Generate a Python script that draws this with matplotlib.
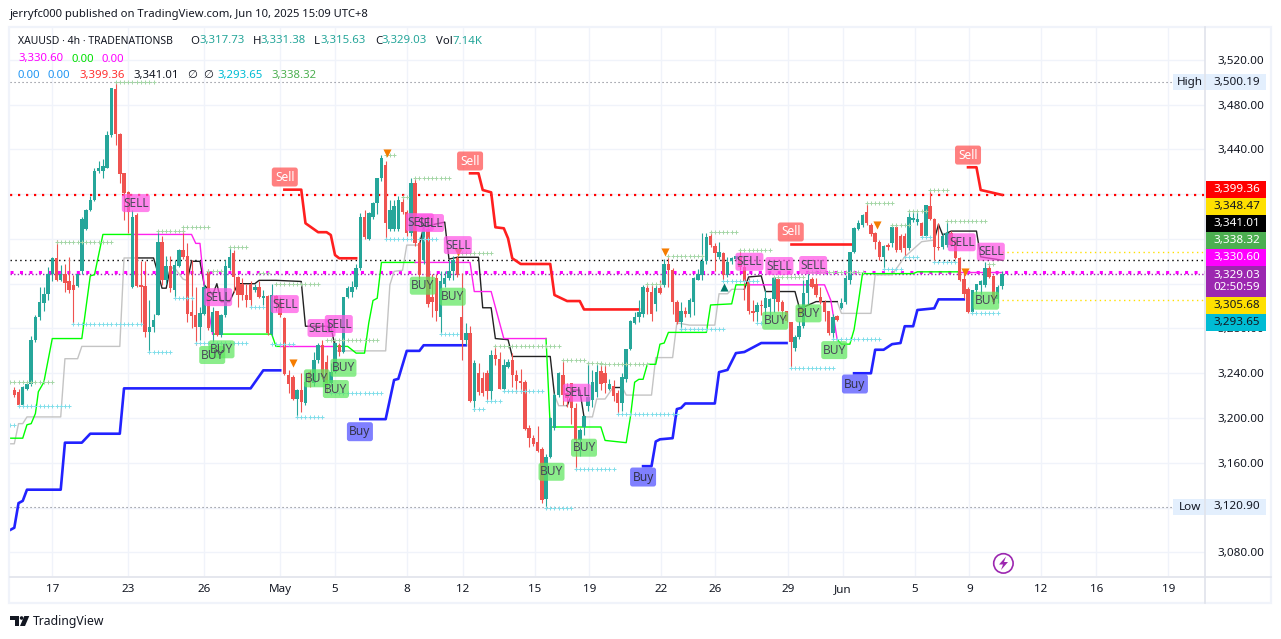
#!/usr/bin/env python3
# XAUUSD 4h chart
import numpy as np
import matplotlib
matplotlib.use("Agg")
import matplotlib.pyplot as plt
from matplotlib.patches import Rectangle, Polygon, Circle, FancyBboxPatch

plt.rcParams["font.family"] = ["Noto Sans", "DejaVu Sans"]

# ── DATA ──────────────────────────────────────────────────────────────
opens = [
    3225, 3223, 3212, 3226, 3230, 3270, 3290, 3303, 3311, 3329,
    3343, 3323, 3329, 3322, 3319, 3318, 3331, 3369, 3386, 3395,
    3421, 3421, 3423, 3453, 3494, 3454, 3419, 3402, 3317, 3381,
    3319, 3318, 3277, 3281, 3292, 3357, 3323, 3336, 3314, 3336,
    3350, 3345, 3295, 3292, 3281, 3293, 3331, 3277, 3296, 3274,
    3292, 3334, 3347, 3326, 3320, 3310, 3320, 3314, 3317, 3307,
    3309, 3275, 3309, 3304, 3289, 3238, 3237, 3217, 3225, 3213,
    3241, 3231, 3252, 3265, 3250, 3231, 3241, 3265, 3259, 3308,
    3313, 3317, 3334, 3380, 3360, 3380, 3392, 3414, 3426, 3369,
    3369, 3369, 3393, 3384, 3365, 3410, 3356, 3341, 3369, 3308,
    3325, 3290, 3320, 3325, 3331, 3343, 3290, 3270, 3276, 3215,
    3240, 3236, 3240, 3224, 3256, 3253, 3226, 3246, 3252, 3238,
    3233, 3232, 3191, 3182, 3179, 3172, 3128, 3165, 3191, 3221,
    3238, 3222, 3231, 3209, 3180, 3192, 3211, 3216, 3223, 3242,
    3240, 3226, 3229, 3222, 3213, 3235, 3262, 3285, 3290, 3293,
    3316, 3313, 3302, 3316, 3319, 3338, 3332, 3304, 3286, 3296,
    3293, 3304, 3323, 3328, 3340, 3363, 3354, 3344, 3347, 3328,
    3340, 3342, 3344, 3335, 3322, 3296, 3295, 3301, 3298, 3299,
    3306, 3324, 3304, 3296, 3286, 3263, 3272, 3282, 3312, 3324,
    3320, 3308, 3304, 3296, 3276, 3291, 3298, 3304, 3323, 3348,
    3369, 3372, 3384, 3372, 3365, 3357, 3344, 3355, 3356, 3371,
    3363, 3363, 3352, 3377, 3375, 3374, 3363, 3389, 3378, 3353,
    3353, 3355, 3365, 3359, 3343, 3324, 3315, 3295, 3314, 3319,
    3319, 3334, 3327, 3306, 3317.73,
]
highs = [
    3228, 3226, 3229, 3232, 3273, 3292, 3317, 3317, 3335, 3344,
    3359, 3337, 3338, 3344, 3328, 3329, 3380, 3387, 3398, 3423,
    3430, 3431, 3456, 3495, 3500, 3455, 3419, 3403, 3386, 3383,
    3340, 3340, 3305, 3293, 3368, 3363, 3345, 3345, 3341, 3351,
    3369, 3356, 3341, 3317, 3299, 3320, 3333, 3299, 3296, 3293,
    3341, 3353, 3350, 3327, 3325, 3320, 3322, 3320, 3322, 3314,
    3310, 3320, 3310, 3308, 3290, 3243, 3238, 3226, 3240, 3240,
    3243, 3259, 3267, 3270, 3256, 3249, 3268, 3267, 3308, 3318,
    3322, 3338, 3383, 3386, 3384, 3393, 3414, 3435, 3430, 3395,
    3395, 3398, 3398, 3386, 3414, 3414, 3359, 3372, 3371, 3329,
    3329, 3331, 3331, 3341, 3345, 3345, 3330, 3285, 3282, 3252,
    3249, 3241, 3243, 3261, 3265, 3259, 3253, 3253, 3258, 3243,
    3244, 3234, 3194, 3185, 3193, 3174, 3168, 3201, 3222, 3241,
    3252, 3231, 3231, 3213, 3191, 3203, 3250, 3243, 3249, 3249,
    3247, 3235, 3234, 3225, 3240, 3262, 3288, 3295, 3305, 3319,
    3320, 3320, 3319, 3323, 3342, 3346, 3334, 3305, 3304, 3299,
    3307, 3326, 3333, 3365, 3365, 3367, 3356, 3357, 3348, 3344,
    3344, 3345, 3351, 3338, 3325, 3305, 3304, 3305, 3314, 3307,
    3326, 3326, 3305, 3296, 3286, 3274, 3287, 3323, 3331, 3326,
    3325, 3317, 3305, 3296, 3293, 3292, 3307, 3328, 3348, 3371,
    3377, 3382, 3392, 3374, 3366, 3359, 3355, 3356, 3372, 3372,
    3364, 3365, 3386, 3386, 3385, 3375, 3390, 3404, 3379, 3374,
    3365, 3376, 3367, 3360, 3344, 3331, 3317, 3314, 3320, 3323,
    3339, 3338, 3328, 3319, 3331.38,
]
lows = [
    3219, 3211, 3211, 3225, 3229, 3268, 3288, 3296, 3305, 3322,
    3322, 3322, 3313, 3312, 3284, 3317, 3329, 3368, 3385, 3394,
    3419, 3414, 3423, 3451, 3444, 3410, 3377, 3365, 3316, 3317,
    3283, 3272, 3259, 3277, 3292, 3319, 3320, 3313, 3307, 3335,
    3342, 3286, 3280, 3265, 3270, 3292, 3279, 3268, 3273, 3272,
    3290, 3332, 3313, 3299, 3305, 3299, 3299, 3313, 3307, 3301,
    3274, 3273, 3296, 3290, 3238, 3222, 3216, 3201, 3205, 3212,
    3228, 3229, 3249, 3235, 3222, 3229, 3240, 3255, 3258, 3307,
    3308, 3315, 3332, 3360, 3359, 3378, 3382, 3412, 3360, 3367,
    3367, 3367, 3382, 3363, 3363, 3354, 3324, 3338, 3299, 3290,
    3287, 3275, 3317, 3323, 3323, 3326, 3252, 3265, 3214, 3206,
    3221, 3220, 3216, 3216, 3247, 3226, 3223, 3245, 3228, 3222,
    3222, 3189, 3174, 3175, 3170, 3124, 3119, 3164, 3189, 3219,
    3212, 3210, 3195, 3154, 3166, 3185, 3206, 3210, 3219, 3225,
    3222, 3225, 3215, 3204, 3206, 3232, 3261, 3284, 3286, 3290,
    3293, 3287, 3296, 3311, 3317, 3317, 3293, 3284, 3278, 3290,
    3290, 3292, 3323, 3323, 3338, 3353, 3331, 3342, 3323, 3326,
    3338, 3340, 3332, 3305, 3293, 3287, 3286, 3292, 3284, 3290,
    3295, 3296, 3287, 3286, 3246, 3260, 3271, 3280, 3302, 3316,
    3308, 3302, 3287, 3274, 3270, 3287, 3297, 3302, 3320, 3347,
    3368, 3371, 3372, 3363, 3351, 3341, 3332, 3350, 3353, 3348,
    3348, 3344, 3350, 3375, 3372, 3362, 3362, 3377, 3340, 3350,
    3351, 3353, 3354, 3342, 3322, 3307, 3294, 3293, 3306, 3311,
    3317, 3325, 3302, 3303, 3315.63,
]
closes = [
    3221, 3212, 3228, 3230, 3270, 3290, 3304, 3311, 3329, 3343,
    3323, 3329, 3321, 3314, 3314, 3329, 3378, 3386, 3395, 3421,
    3423, 3425, 3453, 3495, 3454, 3418, 3401, 3384, 3380, 3318,
    3317, 3277, 3281, 3288, 3357, 3323, 3336, 3316, 3337, 3350,
    3344, 3293, 3291, 3281, 3294, 3317, 3280, 3295, 3274, 3292,
    3336, 3344, 3326, 3310, 3310, 3305, 3305, 3317, 3308, 3309,
    3276, 3310, 3302, 3292, 3239, 3230, 3217, 3225, 3214, 3232,
    3231, 3252, 3265, 3237, 3231, 3241, 3267, 3259, 3308, 3316,
    3317, 3334, 3380, 3362, 3383, 3392, 3414, 3432, 3374, 3386,
    3389, 3395, 3384, 3365, 3410, 3356, 3328, 3369, 3302, 3304,
    3296, 3322, 3325, 3331, 3341, 3328, 3270, 3276, 3215, 3249,
    3223, 3222, 3224, 3256, 3253, 3226, 3247, 3250, 3238, 3233,
    3231, 3190, 3182, 3177, 3171, 3127, 3165, 3200, 3221, 3240,
    3221, 3218, 3209, 3180, 3189, 3202, 3219, 3232, 3241, 3230,
    3231, 3230, 3220, 3213, 3237, 3262, 3287, 3290, 3295, 3317,
    3313, 3293, 3316, 3312, 3338, 3332, 3304, 3286, 3296, 3293,
    3305, 3325, 3329, 3340, 3362, 3355, 3347, 3348, 3328, 3339,
    3343, 3345, 3335, 3322, 3296, 3294, 3301, 3300, 3307, 3306,
    3325, 3304, 3296, 3287, 3268, 3272, 3282, 3312, 3323, 3317,
    3310, 3304, 3295, 3276, 3290, 3288, 3303, 3325, 3348, 3370,
    3374, 3381, 3374, 3364, 3357, 3344, 3354, 3353, 3371, 3350,
    3350, 3352, 3380, 3379, 3378, 3363, 3390, 3378, 3353, 3352,
    3363, 3365, 3355, 3343, 3323, 3311, 3295, 3314, 3320, 3322,
    3334, 3326, 3304, 3317, 3329.03,
]

# (bars, prices) pieces of the stepped indicator lines
blue_segments = [
    ([-1, 0, 1, 2, 3, 11, 12, 16, 18, 25, 26, 56, 59, 63],
     [3100, 3102, 3124, 3126, 3136, 3136, 3178, 3178, 3186, 3186, 3226.5, 3226.5, 3242.6, 3242.6]),
    ([82, 88, 90, 91, 93, 96, 97, 107],
     [3199, 3199, 3234, 3235, 3260, 3260, 3265, 3265]),
    ([149, 151, 152, 153, 156, 157, 158, 159, 166, 167, 169, 171, 173, 174, 177, 183],
     [3157, 3157, 3179, 3181, 3182, 3208, 3209, 3213, 3213, 3241, 3243, 3258, 3259, 3261, 3267, 3267]),
    ([199, 203, 204, 206, 208, 210, 211, 213, 214, 218, 219, 225],
     [3240, 3240, 3261, 3261, 3266, 3267, 3282, 3282, 3296.5, 3298, 3306, 3306]),
]
red_segments = [
    ([64, 68, 69, 72, 74, 75, 76, 77, 81],
     [3404, 3404, 3374, 3366, 3366, 3363.5, 3345.6, 3342.7, 3342.7]),
    ([108, 110, 111, 113, 114, 116, 117, 118, 120, 127, 128, 131, 134, 135, 148],
     [3418.6, 3418.6, 3403.7, 3401.6, 3370.4, 3369.5, 3360.5, 3342.7, 3337.6, 3337.6, 3309.9, 3304.5, 3304.5, 3297, 3297]),
    ([184, 199], [3355.4, 3355.4]),
    ([226, 228, 229, 231, 234], [3424, 3424, 3403.7, 3402, 3399.36]),
]
lime_segments = [
    ([-1, 2, 3, 4, 5, 5.3, 5.7, 7, 9, 16, 18, 19, 21, 28],
     [3182, 3182, 3194, 3195, 3204, 3212, 3223.5, 3232, 3271, 3271, 3327, 3328, 3364, 3364]),
    ([47, 61, 62, 63], [3275, 3275, 3264, 3264]),
    ([76, 79, 81, 83, 84, 85, 86, 87, 95],
     [3264, 3264, 3258, 3258, 3285, 3305, 3307, 3339, 3339]),
    ([126, 127, 139, 140, 145, 146, 147, 148, 149, 150, 152, 153, 154, 155, 164, 165, 170, 171, 174],
     [3271, 3192, 3192, 3180, 3178, 3201, 3232, 3234.6, 3234.6, 3248, 3248, 3266, 3267, 3276.5, 3276.5, 3301, 3302, 3319, 3319]),
    ([195, 196, 198, 199, 200, 201, 213, 214, 224],
     [3270, 3266, 3266, 3279, 3303, 3329, 3329, 3330.6, 3330.6]),
]
magenta_segments = [
    ([28, 42, 43, 44, 45, 47], [3364, 3364, 3356, 3356, 3318, 3275]),
    ([63, 76], [3264, 3264]),
    ([95, 108, 109, 113, 116, 126], [3339, 3339, 3313, 3313, 3271, 3271]),
    ([174, 192, 193.5, 195], [3319, 3319, 3305, 3270]),
    ([224, 234], [3330.6, 3330.6]),
]
gray_segments = [
    ([-1, 0, 1, 2, 3, 11, 12, 15, 16, 25, 26, 29],
     [3177, 3177, 3195, 3195, 3201, 3201, 3253, 3253, 3264, 3264, 3343, 3343]),
    ([37, 38, 40, 41], [3334, 3334, 3324, 3323]),
    ([76, 88, 89, 90, 92, 93, 96], [3260, 3260, 3319, 3331, 3332, 3354.5, 3354.5]),
    ([128, 129, 131], [3220.5, 3211, 3211]),
    ([135, 137, 138, 140, 142], [3201, 3201, 3217, 3217, 3228]),
    ([144, 145, 151, 152, 156, 157, 160, 166, 167, 169, 170, 173],
     [3228, 3220.5, 3220.5, 3254, 3254, 3285, 3283, 3283, 3311, 3311, 3315, 3315]),
    ([195, 196, 203, 204, 208, 211, 215, 218],
     [3304, 3293.5, 3293.5, 3328, 3328, 3344, 3357.5, 3359]),
]
black_segments = [
    ([29, 33, 34, 35, 36, 37], [3343, 3343, 3330, 3316, 3316, 3335]),
    ([41, 42, 44, 45, 47, 48, 49, 51, 53, 57, 58, 62, 68, 69, 75, 76],
     [3323, 3340, 3340, 3319, 3310, 3320, 3304, 3304, 3320, 3320, 3323, 3323, 3322, 3282, 3282, 3264]),
    ([96, 97, 102, 103, 105, 110, 111, 113, 114, 117, 118, 127, 128],
     [3354.5, 3371, 3375, 3342, 3343.6, 3343.6, 3298.5, 3298.5, 3271, 3270, 3255, 3255, 3220.5]),
    ([131, 132.5, 134, 135], [3211, 3225, 3225, 3201]),
    ([142, 144], [3228, 3228]),
    ([173, 174, 177, 178, 185, 186, 187, 190, 195],
     [3315, 3326, 3327, 3313, 3313, 3299, 3299, 3304, 3304]),
    ([218, 219, 220, 222, 228, 229, 234],
     [3359, 3373, 3363.5, 3367, 3367, 3344, 3341]),
]

# dotted "+" pivot runs: first bar, last bar, price
pivot_high_first = [-1, 10, 24, 34, 40, 46, 51, 58, 62, 74, 88, 92, 95, 106, 114, 130, 136, 139, 150, 155, 165, 172, 180, 188, 202, 208, 212, 217, 221, 231]
pivot_high_last = [9, 23, 33, 40, 46, 49, 55, 60, 72, 86, 90, 93, 103, 113, 129, 135, 139, 150, 153, 163, 171, 179, 187, 201, 208, 212, 216, 221, 230, 232]
pivot_high_price = [3232.4, 3357.5, 3500, 3367, 3370.6, 3331.6, 3352.6, 3329.8, 3319.4, 3269.7, 3435, 3397.7, 3414, 3347, 3264.6, 3252, 3249.4, 3248, 3320, 3345, 3366, 3349.8, 3325.7, 3330.7, 3391.8, 3372.4, 3385, 3403.7, 3376, 3338]
pivot_low_first = [-1, 1, 14, 32, 38, 43, 56, 61, 67, 75, 88, 96, 101, 109, 112, 116, 126, 133, 143, 158, 168, 176, 184, 194, 206, 211, 215, 218, 227]
pivot_low_last = [0, 13, 30, 37, 42, 55, 59, 66, 73, 87, 94, 100, 105, 111, 115, 125, 132, 142, 157, 168, 176, 177, 194, 205, 210, 214, 217, 223, 233]
pivot_low_price = [3193.8, 3211, 3283.7, 3259.2, 3307, 3267, 3299.4, 3266, 3201, 3222, 3359.6, 3359.6, 3274.8, 3208, 3215.5, 3224.4, 3120, 3154.2, 3204, 3279.2, 3322.6, 3285, 3245, 3271, 3332.8, 3343.6, 3361.4, 3339, 3293.5]

# signal labels
sell_big_bars = [64.1, 108, 184, 226]
sell_big_prices = [3415.3, 3429.6, 3366.2, 3434.9]
buy_big_bars = [81.9, 149, 199.2]
buy_big_prices = [3187.8, 3147.3, 3230.4]
sell_bars = [28.8, 48.3, 64.1, 72.8, 76.9, 96.1, 98.5, 105.1, 133.3, 174.2, 181.3, 189.3, 224.5, 231.4]
sell_prices = [3392, 3308, 3301.8, 3280.4, 3284, 3375, 3374.2, 3354.5, 3222.6, 3339.6, 3335.8, 3336.7, 3357, 3348.6]
buy_bars = [46.9, 49.1, 71.7, 76.2, 78, 96.8, 103.9, 127.3, 135, 180.3, 188.2, 194.3, 230.3]
buy_prices = [3256.3, 3261.4, 3235.5, 3225.9, 3244.9, 3318.2, 3308.4, 3152, 3173.5, 3286.9, 3293.5, 3260.7, 3304.8]
down_tri_bars = [88.2, 66.1, 105.1, 154.3, 186.2, 204.4, 225.3]
down_tri_prices = [3436.7, 3248.9, 3348.6, 3348.6, 3295, 3372.4, 3330.1]
up_tri_bars = [168.2]
up_tri_prices = [3317.3]

# axes ticks
price_grid = [3080, 3120, 3160, 3200, 3240, 3280, 3320, 3360, 3400, 3440, 3480, 3520]
price_tick_labels = ["3,080.00", "", "3,160.00", "3,200.00", "3,240.00", "3,280.00", "", "", "", "3,440.00", "3,480.00", "3,520.00"]
date_bars = [9, 27, 45, 63, 76, 93, 106.3, 123.3, 136.3, 153.2, 166.1, 183.3, 196.3, 213.4, 226.3, 243.3, 256.4, 273.5]
date_labels = ["17", "23", "26", "May", "5", "8", "12", "15", "19", "22", "26", "29", "Jun", "5", "9", "12", "16", "19"]

# price lines and the stacked tags on the right scale
HIGH, LOW = 3500.19, 3120.90
RED_LEVEL, BLACK_LEVEL, MAGENTA_LEVEL, LAST_PRICE = 3399.36, 3341.01, 3330.60, 3329.03
YELLOW_LEVELS = [3348.47, 3305.68]
tag_texts = ["3,399.36", "3,348.47", "3,341.01", "3,338.32", "3,330.60", "3,329.03\n02:50:59", "3,305.68", "3,293.65"]
tag_colors = ["#ff0000", "#ffe000", "#000000", "#4caf50", "#ff00ff", "#9c27b0", "#ffe000", "#00bcd4"]
tag_text_colors = ["white", "#131722", "white", "white", "white", "white", "#131722", "#131722"]
# ──────────────────────────────────────────────────────────────────────

W, H = 1281, 639
BAR_PX = 4.22
GREEN, RED = "#26a69a", "#ef5350"

fig = plt.figure(figsize=(W / 100, H / 100), dpi=100, facecolor="white")
ax = fig.add_axes([10 / W, 1 - 576 / H, 1195 / W, 549 / H])
ax.set_xlim((10 - 14.3) / BAR_PX, (1205 - 14.3) / BAR_PX)
ax.set_ylim(3058.9, 3549.3)
for side in ax.spines.values():
    side.set_visible(False)

# grid and axis labels
ax.set_axisbelow(True)
ax.grid(True, color="#f0f3fa", lw=1)
ax.yaxis.tick_right()
ax.set_yticks(price_grid, price_tick_labels)
ax.set_xticks(date_bars, date_labels)
ax.tick_params(axis="both", length=0, labelsize=8.4, labelcolor="#131722")
ax.tick_params(axis="y", pad=9)
ax.tick_params(axis="x", pad=6)
for lab in ax.get_xticklabels():
    if lab.get_text() in ("May", "Jun"):
        lab.set_fontweight("bold")

# horizontal price lines
ax.axhline(HIGH, color="#787b86", lw=0.8, ls=(0, (1, 2.6)))
ax.axhline(LOW, color="#787b86", lw=0.8, ls=(0, (1, 2.6)))
ax.axhline(RED_LEVEL, color="#ff0000", lw=1.6, ls=(0, (1, 2.6)), zorder=2)
ax.axhline(BLACK_LEVEL, color="#000000", lw=1.0, ls=(0, (1, 2.5)), zorder=2)
ax.axhline(MAGENTA_LEVEL, color="#ff00ff", lw=2.2, ls=(0, (1, 2.1)), zorder=2)
ax.axhline(LAST_PRICE, color="#9c27b0", lw=1.0, ls=(0, (1, 1.6)), zorder=2)
for level in YELLOW_LEVELS:
    ax.plot([len(closes) - 1, ax.get_xlim()[1]], [level, level], color="#ffe000", lw=1.0,
            ls=(0, (1, 2.5)), zorder=2)

# stepped indicator lines
line_styles = [
    (gray_segments, "#c4c4c4", 1.0),
    (black_segments, "#222222", 1.0),
    (lime_segments, "#00ff00", 1.0),
    (magenta_segments, "#ff22ee", 1.0),
    (blue_segments, "#2222ff", 1.9),
    (red_segments, "#ff1f1f", 1.9),
]
for segments, color, lw in line_styles:
    for bars, prices in segments:
        ax.plot(bars, prices, color=color, lw=lw, zorder=2.5, solid_joinstyle="round")

# candles
x = np.arange(len(closes))
o, h, l, c = map(np.array, (opens, highs, lows, closes))
colors = np.where(c >= o, GREEN, RED)
ax.vlines(x, l, h, colors=colors, lw=0.8, zorder=3)
ax.bar(x, np.maximum(np.abs(c - o), 0.8), bottom=np.minimum(o, c), width=0.82, color=colors,
       linewidth=0, zorder=3.1)

# pivot plus runs
for first, last, price in zip(pivot_high_first, pivot_high_last, pivot_high_price):
    run = np.arange(first, last + 1)
    ax.plot(run, [price] * len(run), ls="", marker="+", ms=3, mew=0.7, color="#a5d6a7", zorder=3.2)
for first, last, price in zip(pivot_low_first, pivot_low_last, pivot_low_price):
    run = np.arange(first, last + 1)
    ax.plot(run, [price] * len(run), ls="", marker="+", ms=3, mew=0.7, color="#80deea", zorder=3.2)

# triangles
ax.scatter(down_tri_bars, down_tri_prices, marker="v", s=34, color="#f57c00", linewidths=0, zorder=4)
ax.scatter(up_tri_bars, up_tri_prices, marker="^", s=34, color="#00796b", linewidths=0, zorder=4)

# overlay in picture pixels for the frame, tags, legend and logo
over = fig.add_axes([0, 0, 1, 1], zorder=10, facecolor="none")
over.set_xlim(0, W)
over.set_ylim(H, 0)
over.axis("off")


def signal_labels(bars, prices, text, face, text_color, box_w, box_h):
    # fixed size boxes placed through the chart's scales
    for bar, price in zip(bars, prices):
        px, py = ax.transData.transform((bar, price))
        py = H - py
        over.add_patch(FancyBboxPatch((px - box_w / 2 + 2, py - box_h / 2 + 2), box_w - 4, box_h - 4,
                                      boxstyle="round,pad=2,rounding_size=2.5", fc=face, ec="none", alpha=0.72))
        over.text(px, py, text, ha="center", va="center", fontsize=8.6, color=text_color, zorder=5)


signal_labels(sell_bars, sell_prices, "SELL", "#ff55e5", "#4a4a5a", 28, 18)
signal_labels(buy_bars, buy_prices, "BUY", "#5fe65f", "#4a4a5a", 26, 18)
signal_labels(sell_big_bars, sell_big_prices, "Sell", "#ff4f4f", "white", 26, 19)
signal_labels(buy_big_bars, buy_big_prices, "Buy", "#4f4fff", "#33334a", 26, 19)

over.add_patch(Rectangle((9, 27), 1262, 576, fc="none", ec="#f0f3fa", lw=1.6))
over.plot([1205, 1205], [27, 603], color="#e0e3eb", lw=1.2)
over.plot([10, 1271], [576.5, 576.5], color="#e0e3eb", lw=1.2)

# High / Low tags
for py, name, value in [(82, "High", HIGH), (507, "Low", LOW)]:
    over.add_patch(Rectangle((1173, py - 8), 93, 16, fc="#e3effd", ec="none"))
    over.text(1190, py, name, ha="center", va="center", fontsize=8.4, color="#131722")
    over.text(1237, py, f"{value:,.2f}", ha="center", va="center", fontsize=8.4, color="#131722")

# stacked price tags
tag_y = 181
for text, color, tcol in zip(tag_texts, tag_colors, tag_text_colors):
    tag_h = 31 if "\n" in text else 17
    over.add_patch(Rectangle((1206, tag_y), 60, tag_h, fc=color, ec="none"))
    over.text(1237, tag_y + tag_h / 2, text, ha="center", va="center", fontsize=8.4, color=tcol,
              fontweight="medium", linespacing=1.15)
    tag_y += tag_h

# header and legend rows
over.text(10, 15, "jerryfc000 published on TradingView.com, Jun 10, 2025 15:09 UTC+8", va="center",
          fontsize=8.1, color="#131722")
TEAL = "#26a69a"
over.text(18, 41, "XAUUSD · 4h · TRADENATIONSB", va="center", fontsize=7.5, color="#131722")
legend_rows = [
    (41, [(190.5, "O", "#131722"), (199, "3,317.73", TEAL),
          (253, "H", "#131722"), (260.5, "3,331.38", TEAL), (314, "L", "#131722"), (320, "3,315.63", TEAL),
          (375, "C", "#131722"), (381.5, "3,329.03", TEAL), (436, "Vol", "#131722"), (452, "7.14K", TEAL)]),
    (59, [(18, "3,330.60", "#ff00ff"), (72, "0.00", "#00e000"), (102, "0.00", "#ff00ff")]),
    (75.5, [(18, "0.00", "#2196f3"), (48, "0.00", "#2196f3"), (79, "3,399.36", "#ff3030"), (133, "3,341.01", "#131722"),
            (187, "∅", "#131722"), (203, "∅", "#131722"), (217, "3,293.65", "#00bcd4"), (271, "3,338.32", "#4caf50")]),
]
for py, pieces in legend_rows:
    for px, text, color in pieces:
        over.text(px, py, text, va="center", fontsize=8.2, color=color)

# TradingView logo
over.add_patch(Polygon([(10, 616), (19.3, 616), (19.3, 626), (14.7, 626), (14.7, 619.5), (10, 619.5)], fc="#131722", ec="none"))
over.add_patch(Circle((21.6, 618), 1.8, fc="#131722", ec="none"))
over.add_patch(Polygon([(24.3, 616), (29.3, 616), (25, 626), (20, 626)], fc="#131722", ec="none"))
over.text(33, 621, "TradingView", va="center", fontsize=8.8, color="#131722")

# lightning badge
over.add_patch(Circle((1003.4, 563.4), 9.7, fc="white", ec="#9c27b0", lw=1.2))
over.add_patch(Polygon([(1006, 556.5), (999, 564.5), (1003, 564.5), (1001, 570), (1008, 562), (1004, 562)], fc="#9c27b0", ec="none"))

fig.savefig("out.png", dpi=100)
